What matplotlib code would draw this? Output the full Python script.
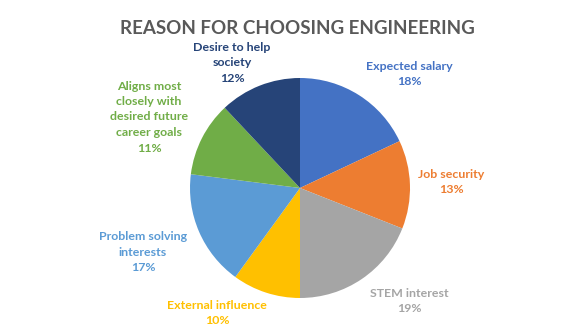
#!/usr/bin/env python3

from matplotlib import pyplot as plt

reasons = ['Expected salary', 'Job security', 'STEM interest', 'External influence',
           'Problem solving\ninterests', 'Aligns most\nclosely with\ndesired future\ncareer goals',
           'Desire to help\nsociety']
shares = [18, 13, 19, 10, 17, 11, 12]
colors = ['#4472C4', '#ED7D31', '#A5A5A5', '#FFC000', '#5B9BD5', '#70AD47', '#264478']

# label centres in pixel coords (x from left, y from top)
label_pos = [(409, 74), (451, 182), (409, 301), (217, 313), (143, 252), (149, 117), (232, 63)]

W, H = 586, 329
plt.rcParams['font.family'] = ['Lato', 'DejaVu Sans']

fig = plt.figure(figsize=(W / 100, H / 100), dpi=100)
ax = fig.add_axes([0, 0, 1, 1])

ax.pie(shares, colors=colors, startangle=90, counterclock=False,
       center=(300, H - 188), radius=110, frame=True,
       wedgeprops=dict(linewidth=0))
ax.set_xlim(0, W)
ax.set_ylim(0, H)
ax.set_aspect('equal')
ax.axis('off')

for name, v, c, (x, y) in zip(reasons, shares, colors, label_pos):
	ax.text(x, H - y, f'{name}\n{v}%', color=c, fontsize=8.9, fontweight='bold',
	        ha='center', va='center', linespacing=1.5)

ax.text(297, H - 29, 'REASON FOR CHOOSING ENGINEERING', color='#595959',
        fontsize=13.5, fontweight='bold', ha='center', va='center')

fig.savefig('out.png', dpi=100)
